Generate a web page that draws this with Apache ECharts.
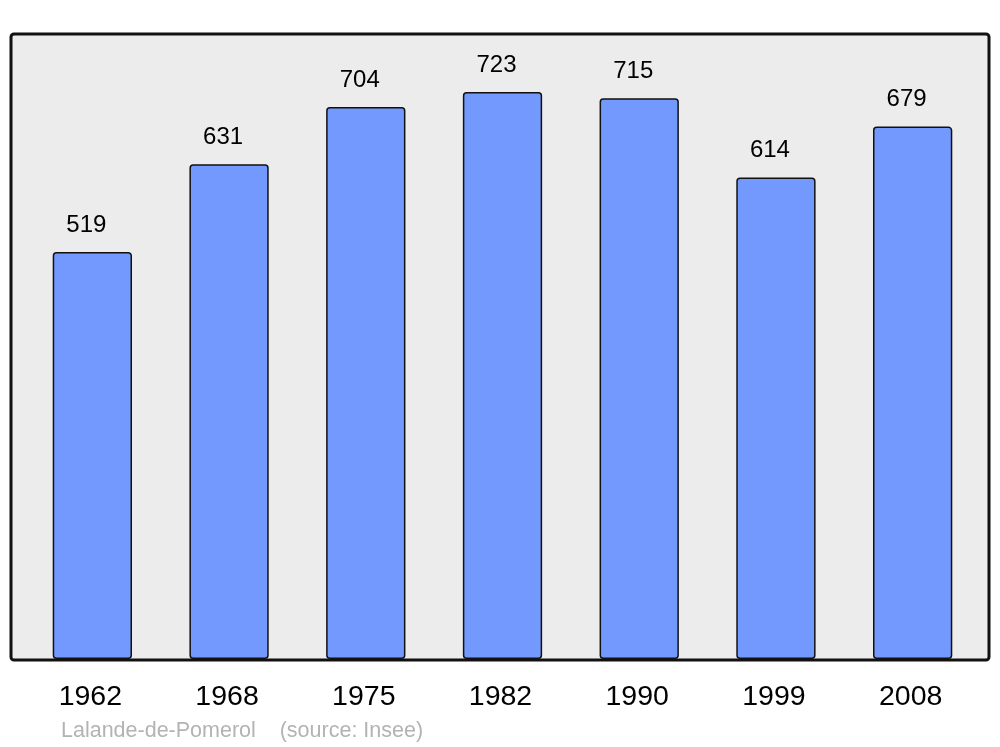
<!DOCTYPE html>
<html>
<head>
<meta charset="utf-8">
<script src="https://cdn.jsdelivr.net/npm/echarts@6/dist/echarts.min.js"></script>
<style>
html,body{margin:0;padding:0;background:#fff;}
#c{width:1000px;height:747px;}
</style>
</head>
<body>
<div id="c"></div>
<script>
const years = ['1962','1968','1975','1982','1990','1999','2008'];
const population = [519, 631, 704, 723, 715, 614, 679];
const sourceText = 'Lalande-de-Pomerol    (source: Insee)';

const chart = echarts.init(document.getElementById('c'), null, {renderer:'canvas'});
chart.setOption({
  animation:false,
  backgroundColor:'#ffffff',
  graphic:[
    {type:'rect', z:-10, shape:{x:11,y:34,width:978,height:626,r:3},
     style:{fill:'#ececec', stroke:'#111111', lineWidth:3}},
    {type:'text', left:61, top:720,
     style:{text:sourceText, fill:'#b3b3b3', font:'21.5px "Liberation Sans", Arial, sans-serif'}}
  ],
  grid:{left:24, right:19, top:34, bottom:88},
  xAxis:{
    type:'category', data:years,
    axisLine:{show:false}, axisTick:{show:false},
    axisLabel:{fontSize:28.5, color:'#000', margin:24, padding:[0,4,0,0],
      fontFamily:'"Liberation Sans", Arial, sans-serif'}
  },
  yAxis:{type:'value', min:0, max:797, show:false, splitLine:{show:false}},
  series:[{
    type:'bar', data:population, barWidth:'58%',
    itemStyle:{color:'#7399ff', borderColor:'#111111', borderWidth:1.5, borderRadius:3},
    label:{show:true, position:'top', distance:15, offset:[-6,0], fontSize:24, color:'#000',
      fontFamily:'"Liberation Sans", Arial, sans-serif'}
  }]
});
</script>
</body>
</html>
